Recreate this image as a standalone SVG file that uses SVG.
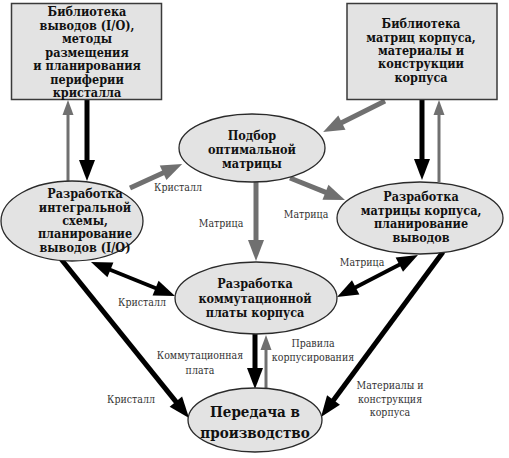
<svg xmlns="http://www.w3.org/2000/svg" width="509" height="458" viewBox="0 0 509 458">
<style>
.box{fill:#e3e3e3;stroke:#3a3a3a;stroke-width:1.5}
.ell{fill:#e3e3e3;stroke:#2a2a2a;stroke-width:1.3}
.nt{font-family:'DejaVu Serif Condensed','DejaVu Serif','Liberation Serif',serif;font-stretch:condensed;font-weight:bold;font-size:12.5px;fill:#111;text-anchor:middle}
.big{font-size:15px}
.lb{font-family:'DejaVu Serif Condensed','DejaVu Serif','Liberation Serif',serif;font-stretch:condensed;font-size:10.5px;fill:#333;text-anchor:middle}
.k{stroke:#000;stroke-width:5;fill:none}
.k4{stroke:#000;stroke-width:4;fill:none}
.g{stroke:#707070;stroke-width:5;fill:none}
.gs{stroke:#707070;stroke-width:3;fill:none}
</style>
<defs>
<marker id="ak" markerUnits="userSpaceOnUse" markerWidth="21" markerHeight="16" refX="1" refY="8" orient="auto-start-reverse" overflow="visible"><path d="M0,0 L21,8 L0,16 z" fill="#000"/></marker>
<marker id="ag" markerUnits="userSpaceOnUse" markerWidth="21" markerHeight="16" refX="1" refY="8" orient="auto-start-reverse" overflow="visible"><path d="M0,0 L21,8 L0,16 z" fill="#707070"/></marker>
<marker id="ags" markerUnits="userSpaceOnUse" markerWidth="15" markerHeight="11" refX="1" refY="5.5" orient="auto-start-reverse" overflow="visible"><path d="M0,0 L15,5.5 L0,11 z" fill="#707070"/></marker>
</defs>
<rect width="509" height="458" fill="#fff"/>
<g id="connectors">
<line class="k" x1="87" y1="100" x2="87" y2="161" marker-end="url(#ak)"/>
<line class="gs" x1="68" y1="186" x2="68" y2="114" marker-end="url(#ags)"/>
<line class="g" x1="130" y1="188" x2="164" y2="172.4" marker-end="url(#ag)"/>
<line class="g" x1="385" y1="101" x2="341" y2="123.1" marker-end="url(#ag)"/>
<line class="k" x1="422" y1="100" x2="422" y2="160" marker-end="url(#ak)"/>
<line class="gs" x1="439" y1="182" x2="439" y2="114" marker-end="url(#ags)"/>
<line class="g" x1="290" y1="178" x2="326.4" y2="192.6" marker-end="url(#ag)"/>
<line class="g" x1="256" y1="182" x2="256" y2="241" marker-end="url(#ag)"/>
<line class="k4" x1="109.5" y1="269.5" x2="156.5" y2="288.5" marker-start="url(#ak)" marker-end="url(#ak)"/>
<line class="k4" x1="400.2" y1="264.2" x2="354.8" y2="287.8" marker-start="url(#ak)" marker-end="url(#ak)"/>
<line class="k" x1="61" y1="259" x2="176.5" y2="402.4" marker-end="url(#ak)"/>
<line class="k" x1="443" y1="252" x2="332.9" y2="400.9" marker-end="url(#ak)"/>
<line class="k" x1="255" y1="334" x2="255" y2="369" marker-end="url(#ak)"/>
<line class="gs" x1="266" y1="388" x2="266" y2="349" marker-end="url(#ags)"/>
<text class="lb" x="178" y="191">Кристалл</text>
<text class="lb" x="221" y="227">Матрица</text>
<text class="lb" x="306" y="218">Матрица</text>
<text class="lb" x="142" y="306">Кристалл</text>
<text class="lb" x="362" y="266">Матрица</text>
<text class="lb" x="131" y="403">Кристалл</text>
<text class="lb" x="200" y="359">Коммутационная</text>
<text class="lb" x="200" y="374">плата</text>
<text class="lb" x="313" y="347">Правила</text>
<text class="lb" x="313" y="361">корпусирования</text>
<text class="lb" x="390" y="389">Материалы и</text>
<text class="lb" x="390" y="403">конструкция</text>
<text class="lb" x="390" y="416">корпуса</text>
</g>
<g id="lib-io">
<rect class="box" x="11.5" y="3.5" width="150" height="96"/>
<text class="nt" x="87" y="16">Библиотека</text>
<text class="nt" x="87" y="30">выводов (I/O),</text>
<text class="nt" x="87" y="43">методы</text>
<text class="nt" x="87" y="57">размещения</text>
<text class="nt" x="87" y="70">и планирования</text>
<text class="nt" x="87" y="84">периферии</text>
<text class="nt" x="87" y="97">кристалла</text>
</g>
<g id="lib-matrix">
<rect class="box" x="347" y="3.5" width="150" height="96"/>
<text class="nt" x="421" y="28">Библиотека</text>
<text class="nt" x="421" y="42">матриц корпуса,</text>
<text class="nt" x="421" y="55">материалы и</text>
<text class="nt" x="421" y="68">конструкции</text>
<text class="nt" x="421" y="82">корпуса</text>
</g>
<g id="select-matrix">
<ellipse class="ell" cx="252" cy="148" rx="73" ry="34"/>
<text class="nt" x="252" y="140">Подбор</text>
<text class="nt" x="252" y="154">оптимальной</text>
<text class="nt" x="252" y="168">матрицы</text>
</g>
<g id="ic-design">
<ellipse class="ell" cx="72" cy="221" rx="71" ry="40"/>
<text class="nt" x="85" y="198">Разработка</text>
<text class="nt" x="85" y="212">интегральной</text>
<text class="nt" x="85" y="225">схемы,</text>
<text class="nt" x="85" y="238">планирование</text>
<text class="nt" x="85" y="252">выводов (I/O)</text>
</g>
<g id="matrix-design">
<ellipse class="ell" cx="420" cy="218" rx="83" ry="36"/>
<text class="nt" x="421" y="201">Разработка</text>
<text class="nt" x="421" y="215">матрицы корпуса,</text>
<text class="nt" x="421" y="228">планирование</text>
<text class="nt" x="421" y="242">выводов</text>
</g>
<g id="board-design">
<ellipse class="ell" cx="256" cy="298" rx="81" ry="36"/>
<text class="nt" x="255" y="288">Разработка</text>
<text class="nt" x="255" y="303">коммутационной</text>
<text class="nt" x="255" y="317">платы корпуса</text>
</g>
<g id="production">
<ellipse class="ell" cx="255" cy="420" rx="67" ry="32"/>
<text class="nt big" x="255" y="417">Передача в</text>
<text class="nt big" x="255" y="438">производство</text>
</g>
</svg>
